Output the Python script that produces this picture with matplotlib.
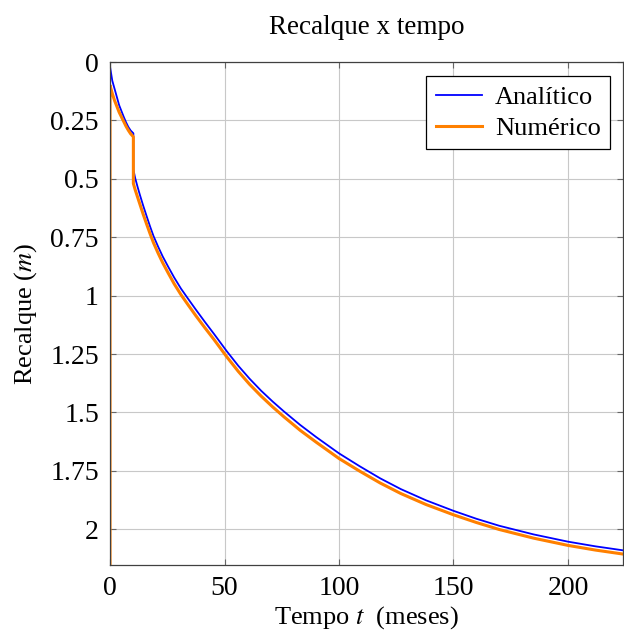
import numpy as np
import matplotlib
matplotlib.use("Agg")
import matplotlib.pyplot as plt

# ===================================================
# Data
# ===================================================

t_analitico = [0, 1, 2, 3, 4, 5, 6, 7, 8, 9, 10.2,
               10.2, 11, 12, 13, 14.5, 16, 17.5, 19, 21, 23, 25.4, 28, 31, 34,
               37.5, 41.4, 45.5, 51, 56, 61, 66, 71, 76, 83, 90, 100, 109, 118,
               127, 138, 150, 160, 170, 185, 200, 212, 224]
s_analitico = [0.02, 0.08, 0.115, 0.15, 0.185, 0.21, 0.235, 0.258, 0.278, 0.293, 0.305,
               0.46, 0.497, 0.533, 0.567, 0.615, 0.66, 0.704, 0.745, 0.79, 0.832,
               0.876, 0.922, 0.97, 1.012, 1.06, 1.112, 1.165, 1.238, 1.30, 1.356,
               1.407, 1.453, 1.496, 1.553, 1.605, 1.675, 1.73, 1.782, 1.828,
               1.876, 1.921, 1.955, 1.985, 2.022, 2.053, 2.073, 2.09]

t_numerico = [0, 0, 1, 2, 3, 4, 5, 6, 7, 8, 9, 10.2,
              10.2, 11, 12, 13, 14.5, 16, 17.5, 19, 21, 23, 25.4, 28, 31, 34,
              37.5, 41.4, 45.5, 51, 56, 61, 66, 71, 76, 83, 90, 100, 109, 118,
              127, 138, 150, 160, 170, 185, 200, 212, 224]
s_numerico = [2.153, 0.10, 0.135, 0.165, 0.19, 0.215, 0.235, 0.255, 0.275, 0.292, 0.307, 0.32,
              0.52, 0.547, 0.577, 0.607, 0.652, 0.694, 0.735, 0.774, 0.818, 0.859,
              0.903, 0.949, 0.996, 1.038, 1.086, 1.137, 1.189, 1.262, 1.324, 1.38,
              1.43, 1.476, 1.519, 1.576, 1.627, 1.697, 1.751, 1.802, 1.847,
              1.894, 1.938, 1.971, 2.001, 2.038, 2.069, 2.089, 2.106]

x_ticks = [0, 50, 100, 150, 200]
y_ticks = [0, 0.25, 0.5, 0.75, 1, 1.25, 1.5, 1.75, 2]
y_labels = ["0", "0.25", "0.5", "0.75", "1", "1.25", "1.5", "1.75", "2"]

# ===================================================
# Plot
# ===================================================

plt.rcParams["font.family"] = ["Liberation Serif", "DejaVu Serif"]
plt.rcParams["mathtext.fontset"] = "stix"
plt.rcParams["font.size"] = 19

fig = plt.figure(figsize=(6.24, 6.35), dpi=100)
ax = fig.add_axes([0.1763, 0.1102, 0.822, 0.7921])

ax.plot(t_analitico, s_analitico, color="#0000ff", lw=1.3, label="Analítico")
ax.plot(t_numerico, s_numerico, color="#ff8000", lw=2.2, label="Numérico")

ax.set_xlim(0, 224)
ax.set_ylim(2.153, 0)

ax.set_xticks(x_ticks)
ax.set_yticks(y_ticks)
ax.set_yticklabels(y_labels)

ax.grid(True, color="#c8c8c8", lw=0.8)
ax.set_axisbelow(True)
ax.tick_params(direction="in", length=4, color="#666666",
               top=True, right=True, labelsize=20, pad=8)
for sp in ax.spines.values():
    sp.set_color("#404040")
    sp.set_linewidth(0.9)

ax.set_title("Recalque x tempo", pad=20, fontsize=19.5)
ax.set_xlabel("Tempo $t$  (meses)", labelpad=2)
ax.set_ylabel("Recalque ($m$)", labelpad=8)

leg = ax.legend(loc="upper right", bbox_to_anchor=(0.975, 0.972),
                fancybox=False, framealpha=1, edgecolor="black",
                handlelength=1.75, borderpad=0.35, labelspacing=0.3,
                handletextpad=0.5, borderaxespad=0.0, fontsize=19)
leg.get_frame().set_linewidth(0.9)

plt.savefig("out.png", dpi=100)
